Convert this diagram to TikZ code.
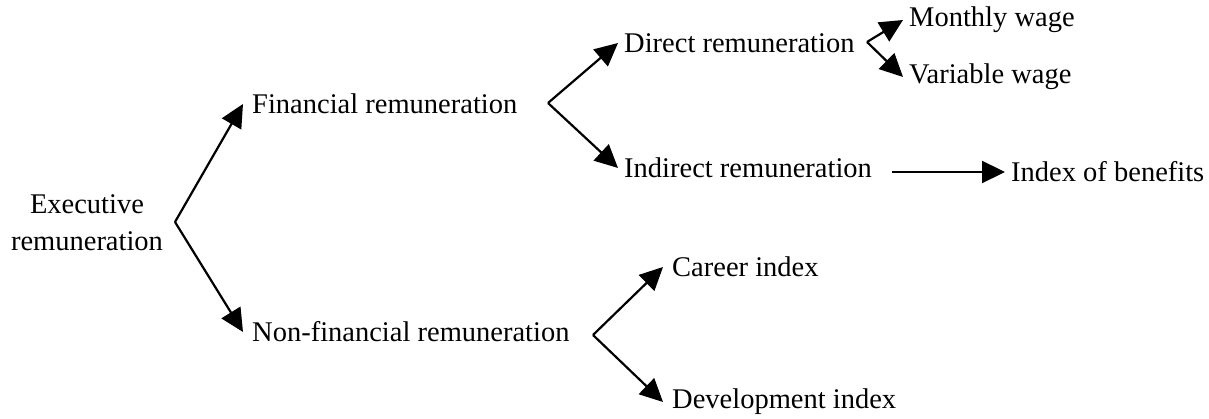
\documentclass[tikz,border=0pt]{standalone}
\usepackage{fontspec}
\setmainfont{Liberation Serif}
\usetikzlibrary{arrows.meta, calc}

\tikzset{
	lbl/.style = {anchor = west, inner ysep = 2pt, inner xsep = 6pt, font = \fontsize{28.5}{37}\selectfont},
	arr/.style = {-{Triangle[length = 23pt, width = 22pt]}, line width = 2.2pt}
}

\begin{document}
\begin{tikzpicture}[x = 1pt, y = 1pt]
	\useasboundingbox (0, 0) rectangle (1209, -419);

	\node[lbl, anchor = center, align = center] (exec) at (87, -223) {Executive\\remuneration};
	\node[lbl, inner xsep = 9pt] (fin) at (243, -104) {Financial remuneration};
	\node[lbl, inner xsep = 9pt] (nonfin) at (243, -332) {Non-financial remuneration};
	\node[lbl] (dir) at (618, -43) {Direct remuneration};
	\node[lbl] (indir) at (618, -168) {Indirect remuneration};
	\node[lbl] (monthly) at (903, -20) {Monthly wage};
	\node[lbl] (variable) at (903, -77) {Variable wage};
	\node[lbl] (benefits) at (1005, -172) {Index of benefits};
	\node[lbl, inner xsep = 9pt] (career) at (663, -267) {Career index};
	\node[lbl, inner xsep = 9pt] (devel) at (663, -402) {Development index};

	\coordinate (v0) at (175, -222);
	\coordinate (v1) at (548, -103);
	\coordinate (v2) at (867, -42);
	\coordinate (v3) at (593, -335);
	\coordinate (v4) at (892, -172);

	\draw[arr] (v0) -- (fin.west);
	\draw[arr] (v0) -- (nonfin.west);
	\draw[arr] (v1) -- (dir.west);
	\draw[arr] (v1) -- (indir.west);
	\draw[arr] (v2) -- (monthly.west);
	\draw[arr] (v2) -- (variable.west);
	\draw[arr] (v3) -- (career.west);
	\draw[arr] (v3) -- (devel.west);
	\draw[arr] (v4) -- (benefits.west);
\end{tikzpicture}
\end{document}
